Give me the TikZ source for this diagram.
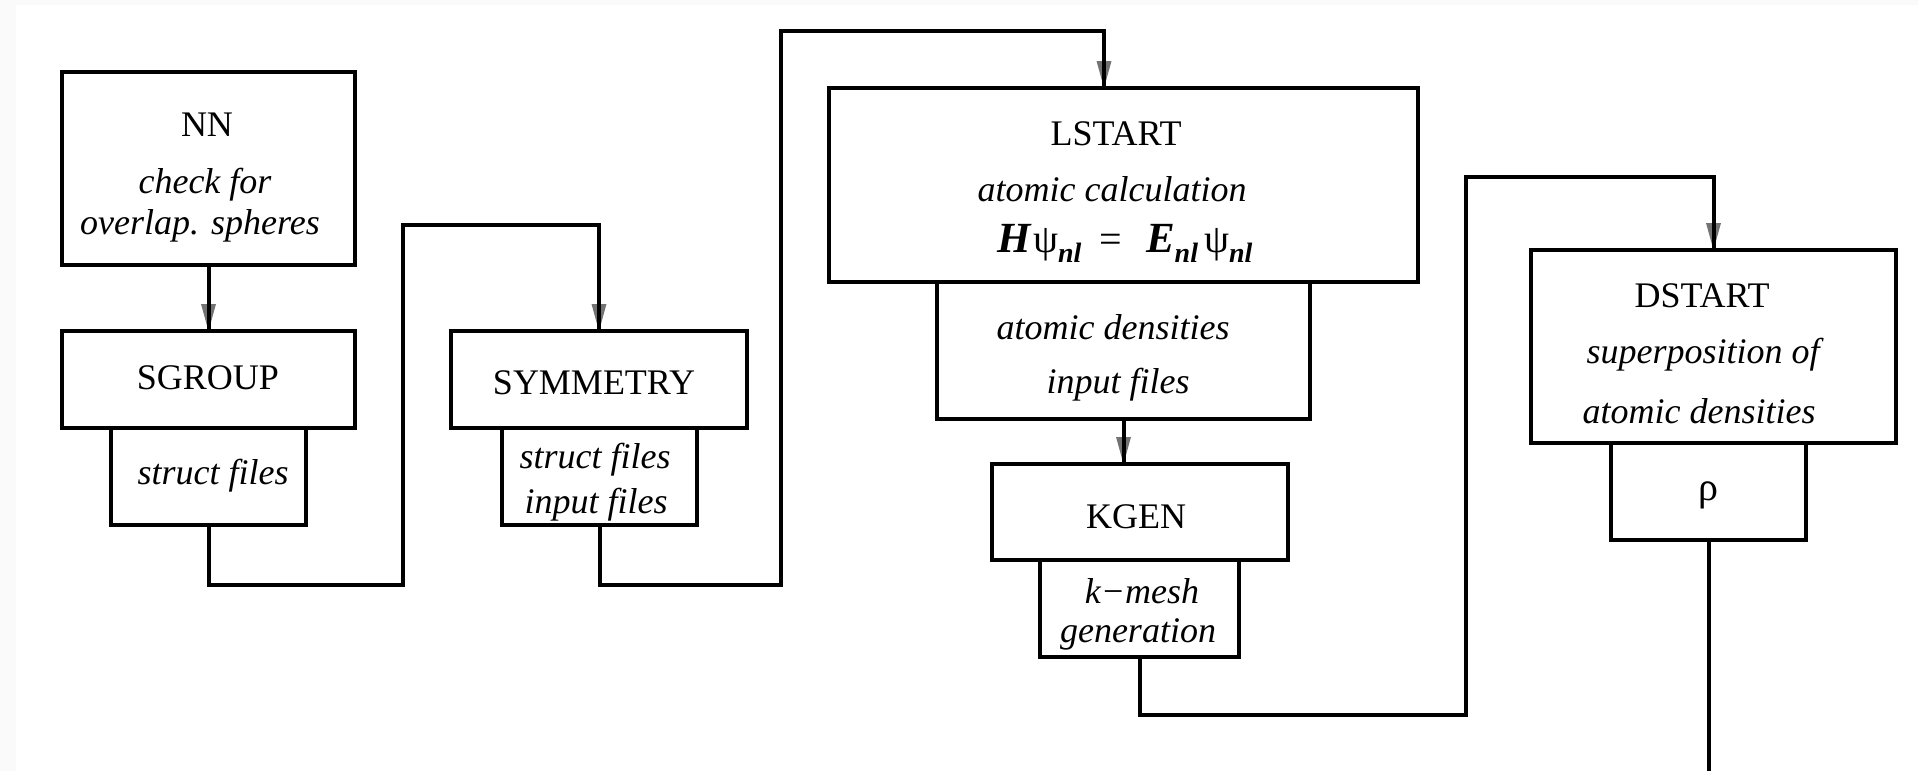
\documentclass[tikz,border=0pt]{standalone}
\usepackage{fontspec}
\setmainfont{Liberation Serif}
\usetikzlibrary{decorations.markings}

\definecolor{edgegrey}{RGB}{250,250,250}
\definecolor{tipgrey}{RGB}{115,115,115}

\tikzset{
  box/.style={draw=black, line width=4pt, rectangle, inner sep=0pt, outer sep=0pt, anchor=north west},
  ttl/.style={anchor=base, inner sep=0pt, font=\fontsize{36}{40}\selectfont},
  dsc/.style={anchor=base, inner sep=0pt, font=\fontsize{36}{40}\selectfont\itshape},
  conn/.style={draw=black, line width=4pt},
  arr/.style={conn, preaction={decorate, decoration={markings,
      mark=at position 1 with {\fill[tipgrey] (0pt,0pt) -- (-27pt,7.5pt) -- (-27pt,-7.5pt) -- cycle;}}}},
}

% pieces of the Schroedinger equation
\newcommand{\eqbig}[1]{{\fontsize{43}{43}\selectfont\bfseries\itshape #1}}
\newcommand{\eqpsi}{{\fontsize{40}{40}\selectfont ψ}}
\newcommand{\eqsub}{\raisebox{-10pt}{\fontsize{28}{28}\selectfont\bfseries\itshape nl}}

\begin{document}
\begin{tikzpicture}[x=1pt, y=-1pt]
  \useasboundingbox (0,0) rectangle (1918,771);
  % faint page margin
  \fill[edgegrey] (0,0) rectangle (16,771);
  \fill[edgegrey] (16,0) rectangle (1918,5);

  % program boxes (upper) and their output boxes (lower)
  \node[box, minimum width=293pt, minimum height=193pt] (nn)     at (62,72)   {};
  \node[box, minimum width=293pt, minimum height=97pt]  (sgroup) at (62,331)  {};
  \node[box, minimum width=195pt, minimum height=97pt]  (sgout)  at (111,428) {};
  \node[box, minimum width=296pt, minimum height=97pt]  (sym)    at (451,331) {};
  \node[box, minimum width=195pt, minimum height=97pt]  (symout) at (502,428) {};
  \node[box, minimum width=589pt, minimum height=194pt] (lstart) at (829,88)  {};
  \node[box, minimum width=373pt, minimum height=137pt] (adens)  at (937,282) {};
  \node[box, minimum width=296pt, minimum height=96pt]  (kgen)   at (992,464) {};
  \node[box, minimum width=199pt, minimum height=97pt]  (kmesh)  at (1040,560) {};
  \node[box, minimum width=365pt, minimum height=193pt] (dstart) at (1531,250) {};
  \node[box, minimum width=195pt, minimum height=97pt]  (rho)    at (1611,443) {};

  % texts
  \node[ttl] (nn-a) at (207,136) {NN};
  \node[dsc] (nn-b) at (205,193) {check for};
  \node[dsc] (nn-c) at (200,234) {overlap. spheres};

  \node[ttl] (sgroup-a) at (208,389) {SGROUP};
  \node[dsc] (sgout-a)  at (213,484) {struct files};

  \node[ttl] (sym-a)    at (594,394) {SYMMETRY};
  \node[dsc] (symout-a) at (595,468) {struct files};
  \node[dsc] (symout-b) at (596,513) {input files};

  \node[ttl] (lstart-a) at (1116,145) {LSTART};
  \node[dsc] (lstart-b) at (1112,201) {atomic calculation};
  \node[anchor=base, inner sep=0pt] (lstart-c) at (1125,252)
    {\eqbig{H}\hspace{2pt}\eqpsi\eqsub\hspace{18pt}{\fontsize{40}{40}\selectfont =}\hspace{24pt}%
     \eqbig{E}\eqsub\hspace{6pt}\eqpsi\eqsub};

  \node[dsc] (adens-a) at (1113,339) {atomic densities};
  \node[dsc] (adens-b) at (1118,393) {input files};

  \node[ttl] (kgen-a)  at (1136,528) {KGEN};
  \node[dsc] (kmesh-a) at (1142,603) {k−mesh};
  \node[dsc] (kmesh-b) at (1138,642) {generation};

  \node[ttl] (dstart-a) at (1702,307) {DSTART};
  \node[dsc] (dstart-b) at (1703,363) {superposition of};
  \node[dsc] (dstart-c) at (1699,423) {atomic densities};

  \node[anchor=base, inner sep=0pt, font=\fontsize{40}{40}\selectfont] (rho-a) at (1708,500) {ρ};

  % turning points of the connectors
  \coordinate (low1) at (0,585);
  \coordinate (low2) at (0,715);
  \coordinate (top1) at (0,225);
  \coordinate (top2) at (0,30.5);
  \coordinate (top3) at (0,177);
  \coordinate (up1)  at (403,0);
  \coordinate (up2)  at (781,0);
  \coordinate (up3)  at (1465.5,0);
  \coordinate (in1)  at (1104,0);
  \coordinate (bottom) at (0,771);

  % connectors
  \draw[arr] (nn.south) -- (sgroup.north);
  \draw[arr] (sgout.south) |- (up1 |- low1) -- (up1 |- top1) -| (sym.north);
  \draw[arr] (symout.south) |- (up2 |- low1) -- (up2 |- top2) -| (in1 |- lstart.north);
  \draw[arr] (adens.south) -- (adens.south |- kgen.north);
  \draw[arr] (kmesh.south) |- (up3 |- low2) -- (up3 |- top3) -| (dstart.north);
  \draw[conn] (rho.south) -- (rho.south |- bottom);
\end{tikzpicture}
\end{document}
